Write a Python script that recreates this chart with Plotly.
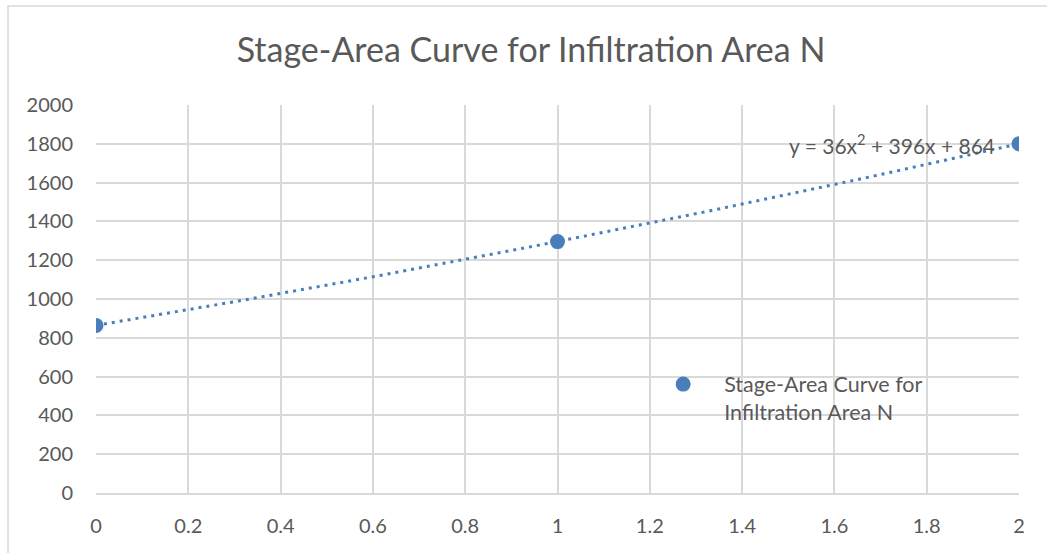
import numpy as np
import plotly.graph_objects as go

# Data
stage = [0, 1, 2]
area = [864, 1296, 1800]
series_name = "Stage-Area Curve for<br>Infiltration Area N"
title_text = "Stage-Area Curve for Infiltration Area N"
x_ticks = [0, 0.2, 0.4, 0.6, 0.8, 1, 1.2, 1.4, 1.6, 1.8, 2]
y_ticks = [0, 200, 400, 600, 800, 1000, 1200, 1400, 1600, 1800, 2000]

# Polynomial trendline (order 2), fit like Excel
coef = np.polyfit(stage, area, 2)
xt = np.linspace(min(stage), max(stage), 200)
yt = np.polyval(coef, xt)
eq = "y = {:.0f}x<sup>2</sup> + {:.0f}x + {:.0f}".format(*coef)

blue = "#4A7EBB"
grey_text = "#595959"
grid = "#D9D9D9"
font_family = "Lato, 'Open Sans', sans-serif"

fig = go.Figure()
fig.add_trace(go.Scatter(x=xt, y=yt, mode="lines",
                         line=dict(color=blue, width=3, dash="3px,5px"),
                         showlegend=False, hoverinfo="skip"))
fig.add_trace(go.Scatter(x=stage, y=area, mode="markers", name=series_name,
                         marker=dict(color=blue, size=15)))

fig.add_annotation(x=2, y=1800, xref="x", yref="y", text=eq, showarrow=False,
                   xanchor="right", yanchor="middle", xshift=-22,
                   font=dict(size=21, color=grey_text, family=font_family))

# outer chart border
fig.add_shape(type="rect", xref="paper", yref="paper",
              x0=-0.0953, x1=1.1, y0=-0.25, y1=1.255,
              line=dict(color=grid, width=1.5), fillcolor="rgba(0,0,0,0)", layer="below")

fig.update_layout(
    width=1047, height=553,
    margin=dict(l=96, r=28, t=105, b=60),
    paper_bgcolor="white", plot_bgcolor="white",
    title=dict(text=title_text, x=0.4713, xanchor="center", y=0.9096, yanchor="middle",
               xref="paper",
               font=dict(size=34, color=grey_text, family=font_family)),
    font=dict(family=font_family, color=grey_text, size=20),
    xaxis=dict(range=[0, 2], tickvals=x_ticks, ticktext=[f"{v:g}" for v in x_ticks],
               showgrid=True, gridcolor=grid, gridwidth=1.5,
               zeroline=False, showline=True, linecolor=grid, linewidth=1.5,
               ticks="", ticklabelstandoff=14, tickfont=dict(size=20, color=grey_text)),
    yaxis=dict(range=[0, 2000], tickvals=y_ticks, ticktext=[str(v) for v in y_ticks],
               showgrid=True, gridcolor=grid, gridwidth=1.5,
               zeroline=False, showline=False,
               ticks="", ticklabelstandoff=22, tickfont=dict(size=20, color=grey_text)),
    legend=dict(x=0.5917, y=0.3335, xanchor="left", yanchor="top",
                bgcolor="rgba(0,0,0,0)", font=dict(size=21.5, color=grey_text),
                valign="top", itemwidth=72),
    showlegend=True,
)

fig.write_html("out.html", config={"displayModeBar": False},
               post_script="document.body.style.margin='0';")
